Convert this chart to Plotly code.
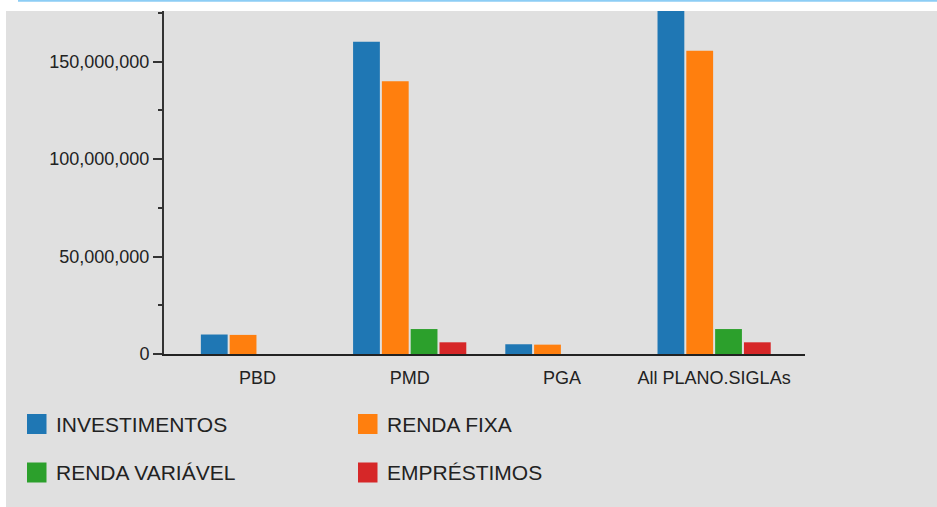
import plotly.graph_objects as go

categories = ["PBD", "PMD", "PGA", "All PLANO.SIGLAs"]
investimentos = [10.0e6, 160.2e6, 5.0e6, 176.0e6]
renda_fixa = [9.8e6, 140.0e6, 4.8e6, 155.6e6]
renda_variavel = [0, 12.8e6, 0, 12.8e6]
emprestimos = [0, 6.0e6, 0, 6.0e6]

series_names = ["INVESTIMENTOS", "RENDA FIXA", "RENDA VARIÁVEL", "EMPRÉSTIMOS"]
series_values = [investimentos, renda_fixa, renda_variavel, emprestimos]
colors = ["#1f77b4", "#ff7f0e", "#2ca02c", "#d62728"]

W, H = 937, 507
L, R, T, B = 164, 805, 11, 354  # plot area in pixels


def px(x):
    return (x - L) / (R - L)


def py(y):
    return (B - y) / (B - T)


FONT = "Liberation Sans, Arial, sans-serif"

fig = go.Figure()
for name, vals, col in zip(series_names, series_values, colors):
    fig.add_trace(go.Bar(x=categories, y=vals, name=name, marker_color=col,
                         marker_line_width=0, showlegend=False))

shapes = [
    dict(type="rect", xref="paper", yref="paper", x0=px(6), x1=px(945), y0=py(515), y1=py(11),
         fillcolor="#e0e0e0", line_width=0, layer="below"),
    dict(type="line", xref="paper", yref="paper", x0=px(18), x1=px(945), y0=py(0.8), y1=py(0.8),
         line=dict(color="#8ccdf5", width=2)),
]
annotations = []
legend_pos = [(27, 424), (358, 424), (27, 472.5), (358, 472.5)]
for (lx, ly), name, col in zip(legend_pos, series_names, colors):
    shapes.append(dict(type="rect", xref="paper", yref="paper", x0=px(lx), x1=px(lx + 19.5),
                       y0=py(ly + 10), y1=py(ly - 10), fillcolor=col, line_width=0))
    annotations.append(dict(xref="paper", yref="paper", x=px(lx + 27), y=py(ly), text=name,
                            showarrow=False, xanchor="left", yanchor="middle",
                            font=dict(family=FONT, size=21, color="#222")))

fig.update_layout(
    width=W, height=H,
    margin=dict(l=L, r=W - R, t=T, b=H - B, pad=0),
    paper_bgcolor="white", plot_bgcolor="rgba(0,0,0,0)",
    barmode="group", bargap=0.243, bargroupgap=0.07,
    font=dict(family=FONT, size=18, color="#222"),
    shapes=shapes, annotations=annotations,
    xaxis=dict(range=[-0.614, 3.597], showgrid=False, zeroline=False,
               showline=True, linecolor="#222", linewidth=2, ticks="",
               ticklabelstandoff=6,
               tickfont=dict(size=18, color="#222")),
    yaxis=dict(range=[0, 176e6], showgrid=False, zeroline=False,
               showline=True, linecolor="#333", linewidth=2,
               tickmode="array", tickvals=[0, 50e6, 100e6, 150e6],
               ticktext=["0", "50,000,000", "100,000,000", "150,000,000"],
               ticks="outside", ticklen=9, tickwidth=2, tickcolor="#333",
               minor=dict(tickmode="array", tickvals=[25e6, 75e6, 125e6, 175e6],
                          ticks="outside", ticklen=4, tickwidth=2, tickcolor="#333"),
               tickfont=dict(size=18, color="#222")),
)

fig.write_html("out.html", config={"displayModeBar": False},
               post_script="document.body.style.margin='0px';")
